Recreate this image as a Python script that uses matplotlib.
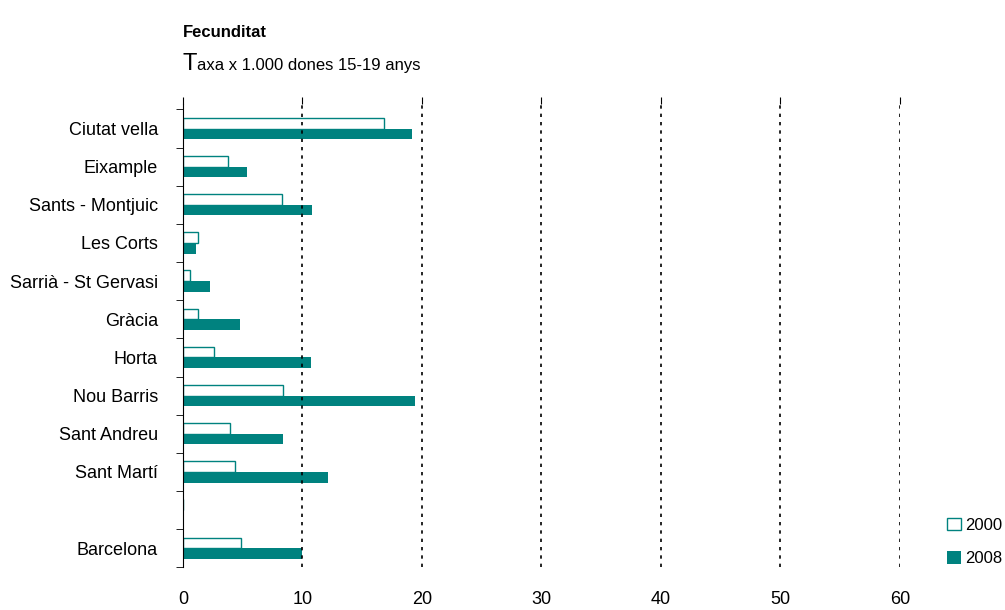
import matplotlib.pyplot as plt
import numpy as np

plt.rcParams['font.family'] = ['Liberation Sans Narrow', 'Liberation Sans', 'DejaVu Sans']

districts = ['Ciutat vella', 'Eixample', 'Sants - Montjuic', 'Les Corts',
             'Sarrià - St Gervasi', 'Gràcia', 'Horta', 'Nou Barris',
             'Sant Andreu', 'Sant Martí', '', 'Barcelona']
vals_2000 = [16.8, 3.8, 8.3, 1.3, 0.6, 1.25, 2.6, 8.4, 3.9, 4.4, 0, 4.9]
vals_2008 = [19.2, 5.4, 10.8, 1.1, 2.3, 4.8, 10.7, 19.4, 8.4, 12.1, 0, 10.0]
teal = '#00827f'

fig = plt.figure(figsize=(10.05, 6.10), dpi=100)
ax = fig.add_axes([0.182, 0.07, 0.7135, 0.76])

y = np.arange(len(districts))
h = 0.28
ax.barh(y - h / 2, vals_2000, height=h, facecolor='white', edgecolor=teal, linewidth=1, label='2000')
ax.barh(y + h / 2, vals_2008, height=h, color=teal, label='2008')

ax.set_xlim(0, 60)
ax.set_ylim(11.5, -0.65)
ax.set_yticks(y)
ax.set_yticklabels(districts, fontsize=13)
ax.set_yticks(np.arange(-0.5, 12, 1), minor=True)
ax.tick_params(axis='y', which='major', length=0, pad=18)
ax.tick_params(axis='y', which='minor', length=5, direction='out')
ax.set_xticks(range(0, 61, 10))
ax.tick_params(axis='x', labelsize=13, bottom=False, top=True, length=5, direction='out', pad=12)
for x in range(10, 61, 10):
    ax.axvline(x, color='black', linestyle=(0, (2, 3)), linewidth=1.2)
for s in ['top', 'right', 'bottom']:
    ax.spines[s].set_visible(False)
ax.spines['left'].set_color('black')

fig.text(0.182, 0.94, 'Fecunditat', fontsize=12, fontweight='bold')
fig.text(0.182, 0.885, 'T', fontsize=17)
fig.text(0.196, 0.885, 'axa x 1.000 dones 15-19 anys', fontsize=12)

ax.legend(loc='lower left', bbox_to_anchor=(1.045, -0.03), frameon=False,
          fontsize=12, handlelength=0.8, handleheight=0.8, handletextpad=0.3, labelspacing=1.1)

fig.savefig('out.png')
